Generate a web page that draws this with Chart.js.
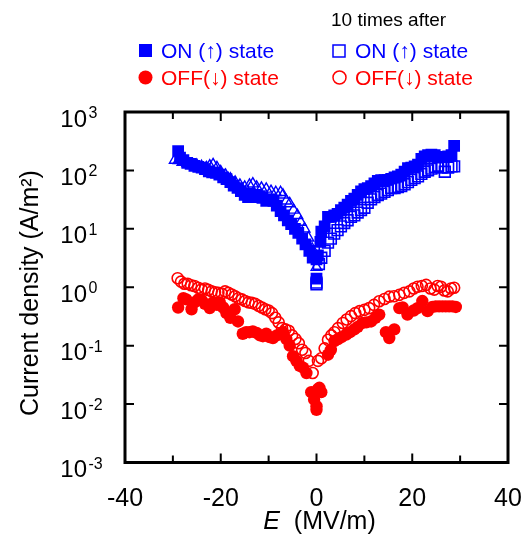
<!DOCTYPE html>
<html>
<head>
<meta charset="utf-8">
<script src="https://cdn.jsdelivr.net/npm/chart.js@4.4.1/dist/chart.umd.min.js"></script>
<style>
html,body{margin:0;padding:0;background:#fff;}
#wrap{width:531px;height:538px;}
</style>
</head>
<body>
<div id="wrap"><canvas id="c" width="531" height="538"></canvas></div>
<script>
// ---- Data (E in MV/m, J in A/m^2) ----
const onE = [-28.9,-28.5,-27.8,-27.0,-26.3,-25.5,-24.7,-24.0,-23.3,-22.5,-21.8,-21.0,-20.3,-19.5,-18.8,-18.0,-17.3,-16.5,-15.8,-15.0,-14.3,-13.5,-12.8,-12.0,-11.3,-10.5,-9.8,-9.0,-8.3,-7.5,-6.8,-6.0,-5.3,-4.5,-3.8,-3.0,-2.3,-1.5,-0.8,0,0,
  0.3,0.8,1.0,1.7,2.4,3.0,3.7,4.4,5.1,5.8,6.5,7.2,7.9,8.6,9.3,10.0,10.7,11.4,12.1,12.8,13.5,14.2,14.9,15.6,16.3,17.0,17.7,18.4,19.1,19.8,20.5,21.2,21.9,22.6,23.3,24.0,24.7,25.4,26.1,26.8,27.5,28.2,28.75];
const onJ = [215,165,150,135,130,120,115,112,105,96,93,91,85,76,71,63,55,50,44,38,35,35,38,36,34,30,32,30,25,20,17,14,12,10,8.5,6.8,5.4,4.2,3.2,3.0,1.4,
  3.5,6,9,11,16,16,17,18,21,23,26,30,33,38,44,48,50,54,60,66,68,68,69,72,76,79,85,95,110,112,117,126,158,174,182,186,182,166,170,170,174,182,263];

const onAfterE = [0,0,0.5,1.0,1.7,2.4,3.0,3.7,4.4,5.1,5.8,6.5,7.2,7.9,8.6,9.3,10.0,10.7,11.4,12.1,12.8,13.5,14.2,14.9,15.6,16.3,17.0,17.7,18.4,19.1,19.8,20.5,21.2,21.9,22.6,23.3,24.0,24.7,25.4,26.1,26.8,27.5,28.2,28.75];
const onAfterJ = [1.2,1.12,2.5,3.2,4.2,5.8,6.8,8.3,9.5,11,12.6,14,16,17,19,21,23,28,32,35,38,40,43,46,50,50,52,54,58,63,69,74,79,87,95,100,107,115,120,112,95,112,117,117];

const onAfterTriE = [-29.6,-28.8,-28.0,-27.0,-26.0,-25.0,-24.0,-23.0,-22.3,-21.6,-20.8,-20.0,-19.0,-18.0,-17.0,-16.0,-15.0,-14.0,-13.3,-12.5,-11.5,-10.5,-9.5,-8.5,-7.5,-7.0,-6.3,-5.6,-4.8,-4.0,-3.3,-2.5,-1.7,-0.9,0];
const onAfterTriJ = [150,148,138,132,126,123,117,112,120,126,112,95,83,72,63,56,52,56,59,52,50,48,44,42,42,38,30,27,21,17,13,10,7,4.5,2.2];

const offE = [-28.9,-27.8,-27.2,-26.1,-25.5,-24.7,-24.0,-23.3,-22.3,-21.6,-20.8,-20.2,-19.5,-18.8,-18.0,-17.1,-16.4,-15.4,-14.7,-14.0,-13.3,-12.5,-11.8,-11.2,-10.5,-9.8,-9.1,-8.3,-7.5,-7.0,-6.3,-5.6,-4.9,-4.2,-3.5,-2.8,-2.1,-1.1,-0.5,0,0,
  0.3,0.6,1.0,2.4,3.0,3.75,4.5,5.2,6.2,7.0,7.9,8.6,9.6,10.4,11.4,12.3,13.1,14.5,15.2,16.25,17.3,18.0,19.0,20.3,21.1,22.1,23.2,24.2,24.9,25.6,26.3,27.0,27.7,28.4,29.1];
const offJ = [0.45,0.65,0.62,0.42,0.55,0.62,0.60,0.52,0.44,0.55,0.50,0.55,0.45,0.36,0.30,0.42,0.26,0.16,0.17,0.17,0.175,0.165,0.15,0.145,0.16,0.14,0.135,0.15,0.16,0.17,0.13,0.10,0.066,0.055,0.045,0.042,0.034,0.016,0.012,0.0092,0.0080,
  0.018,0.019,0.016,0.07,0.085,0.12,0.13,0.14,0.155,0.17,0.19,0.21,0.245,0.25,0.26,0.30,0.34,0.17,0.135,0.19,0.44,0.45,0.34,0.40,0.44,0.58,0.39,0.46,0.47,0.47,0.47,0.47,0.47,0.47,0.46];

const offAfterE = [-29.0,-28.3,-27.6,-26.9,-26.2,-25.5,-24.7,-24.0,-23.3,-22.6,-21.9,-21.2,-20.5,-19.8,-19.1,-18.4,-17.7,-17.0,-16.3,-15.6,-14.9,-14.2,-13.5,-12.8,-12.1,-11.4,-10.7,-10.0,-9.3,-8.6,-7.9,-7.2,-6.5,-5.8,-5.1,-4.4,-3.7,-3.0,-2.3,-1.6,-0.8,
  0.3,1.0,1.7,2.4,3.1,3.75,4.5,5.5,6.3,7.2,8.1,9.0,10.0,11.0,12.0,13.1,14.2,15.2,16.2,17.3,18.3,19.4,20.3,21.1,22.0,22.9,23.8,24.6,25.3,26.0,26.7,27.4,28.1,28.75];
const offAfterJ = [1.43,1.25,1.15,1.15,1.08,1.05,0.98,0.92,0.95,0.90,0.85,0.82,0.80,0.78,0.85,0.80,0.75,0.70,0.65,0.62,0.58,0.55,0.54,0.52,0.48,0.45,0.42,0.40,0.36,0.30,0.25,0.20,0.19,0.18,0.15,0.13,0.11,0.085,0.075,0.055,0.034,
  0.055,0.061,0.09,0.126,0.15,0.17,0.20,0.245,0.28,0.32,0.36,0.39,0.41,0.44,0.50,0.575,0.63,0.69,0.70,0.74,0.80,0.85,0.95,1.02,1.05,1.10,0.95,0.91,1.05,1.02,0.88,0.85,0.95,0.98];

const xTicks = [-40,-20,0,20,40];
const xMinor = [-30,-10,10,30];
const yExps = [3,2,1,0,-1,-2,-3];

const BLUE = '#0000ff', RED = '#ff0000';
const FONT = '"Liberation Sans", Arial, Helvetica, sans-serif';

function pts(xs, ys){ return xs.map((x,i)=>({x:x, y:ys[i]})); }

const framePlugin = {
  id: 'framePlugin',
  afterDraw(chart){
    const ctx = chart.ctx;
    const a = chart.chartArea;
    const xs = chart.scales.x, ys = chart.scales.y;
    ctx.save();
    // ticks (inward)
    ctx.strokeStyle = '#000';
    ctx.lineWidth = 2;
    ctx.beginPath();
    xTicks.concat(xMinor).forEach(v=>{
      const px = xs.getPixelForValue(v);
      const L = xMinor.includes(v) ? 7 : 9;
      if (v > -40 && v < 40) {
        ctx.moveTo(px, a.bottom); ctx.lineTo(px, a.bottom - L);
        ctx.moveTo(px, a.top); ctx.lineTo(px, a.top + L);
      }
    });
    yExps.forEach(e=>{
      const py = ys.getPixelForValue(Math.pow(10,e));
      if (e < 3 && e > -3) {
        ctx.moveTo(a.left, py); ctx.lineTo(a.left + 9, py);
        ctx.moveTo(a.right, py); ctx.lineTo(a.right - 9, py);
      }
    });
    ctx.stroke();
    // frame
    ctx.lineWidth = 3;
    ctx.strokeRect(a.left, a.top, a.right - a.left, a.bottom - a.top);

    // x tick labels
    ctx.fillStyle = '#000';
    ctx.font = '25px ' + FONT;
    ctx.textAlign = 'center';
    ctx.textBaseline = 'alphabetic';
    xTicks.forEach(v=>{
      ctx.fillText(String(v), xs.getPixelForValue(v), 506);
    });
    // y tick labels 10^n
    yExps.forEach(e=>{
      const py = ys.getPixelForValue(Math.pow(10,e));
      ctx.font = '24px ' + FONT;
      ctx.textAlign = 'right';
      ctx.fillText('10', 87, py + 14.5);
      ctx.font = '16px ' + FONT;
      ctx.textAlign = 'left';
      ctx.fillText(String(e), 88.5, py + 6);
    });
    // x title
    ctx.textAlign = 'left';
    const t1 = 'E';
    const t2 = '  (MV/m)';
    ctx.font = 'italic 25px ' + FONT;
    const w1 = ctx.measureText(t1).width;
    ctx.font = '25px ' + FONT;
    const w2 = ctx.measureText(t2).width;
    const cx = (a.left + a.right)/2 + 3;
    let sx = cx - (w1 + w2)/2;
    ctx.font = 'italic 25px ' + FONT;
    ctx.fillText(t1, sx, 529);
    ctx.font = '25px ' + FONT;
    ctx.fillText(t2, sx + w1, 529);
    // y title
    ctx.save();
    ctx.translate(38, 293);
    ctx.rotate(-Math.PI/2);
    ctx.textAlign = 'center';
    ctx.font = '25px ' + FONT;
    ctx.fillText('Current density (A/m\u00B2)', 0, 0);
    ctx.restore();

    // legend
    ctx.textAlign = 'left';
    ctx.font = '19px ' + FONT;
    ctx.fillStyle = '#000';
    ctx.fillText('10 times after', 331, 26);
    ctx.font = '21px ' + FONT;
    ctx.fillStyle = BLUE;
    ctx.fillRect(139, 44, 13, 13);
    ctx.fillText('ON (\u2191) state', 161, 58);
    ctx.fillStyle = RED;
    ctx.beginPath(); ctx.arc(145.5, 77.5, 7, 0, Math.PI*2); ctx.fill();
    ctx.fillText('OFF(\u2193) state', 161, 85);
    ctx.strokeStyle = BLUE; ctx.lineWidth = 1.5;
    ctx.strokeRect(333, 45, 12, 12);
    ctx.fillStyle = BLUE;
    ctx.fillText('ON (\u2191) state', 355, 58);
    ctx.strokeStyle = RED;
    ctx.beginPath(); ctx.arc(339.5, 77.5, 6.5, 0, Math.PI*2); ctx.stroke();
    ctx.fillStyle = RED;
    ctx.fillText('OFF(\u2193) state', 355, 85);
    ctx.restore();
  }
};

new Chart(document.getElementById('c'), {
  type: 'scatter',
  data: {
    datasets: [
      { label: 'ON (\u2191) state', data: pts(onE, onJ), pointStyle: 'rect', pointRadius: 8.3, backgroundColor: BLUE, borderColor: BLUE, borderWidth: 0 },
      { label: 'OFF(\u2193) state', data: pts(offE, offJ), pointStyle: 'circle', pointRadius: 6.2, backgroundColor: RED, borderColor: RED, borderWidth: 0 },
      { label: '10 times after ON (\u2191) state', data: pts(onAfterE, onAfterJ), pointStyle: 'rect', pointRadius: 7.6, backgroundColor: 'rgba(0,0,0,0)', borderColor: BLUE, borderWidth: 1.6 },
      { label: '10 times after ON (\u2191) state (triangles)', data: pts(onAfterTriE, onAfterTriJ), pointStyle: 'triangle', pointRadius: 6.2, backgroundColor: 'rgba(0,0,0,0)', borderColor: BLUE, borderWidth: 1.4 },
      { label: '10 times after OFF(\u2193) state', data: pts(offAfterE, offAfterJ), pointStyle: 'circle', pointRadius: 5.5, backgroundColor: 'rgba(0,0,0,0)', borderColor: RED, borderWidth: 1.6 }
    ]
  },
  options: {
    responsive: false,
    animation: false,
    devicePixelRatio: 1,
    layout: { padding: { left: 125, right: 23, top: 112, bottom: 75.5 } },
    plugins: { legend: { display: false }, tooltip: { enabled: false } },
    scales: {
      x: {
        type: 'linear', min: -40, max: 40,
        grid: { display: false }, border: { display: false },
        ticks: { display: false },
        afterFit(s){ s.height = 0; }
      },
      y: {
        type: 'logarithmic', min: 1e-3, max: 1e3,
        grid: { display: false }, border: { display: false },
        ticks: { display: false },
        afterFit(s){ s.width = 0; }
      }
    }
  },
  plugins: [framePlugin]
});
</script>
</body>
</html>
